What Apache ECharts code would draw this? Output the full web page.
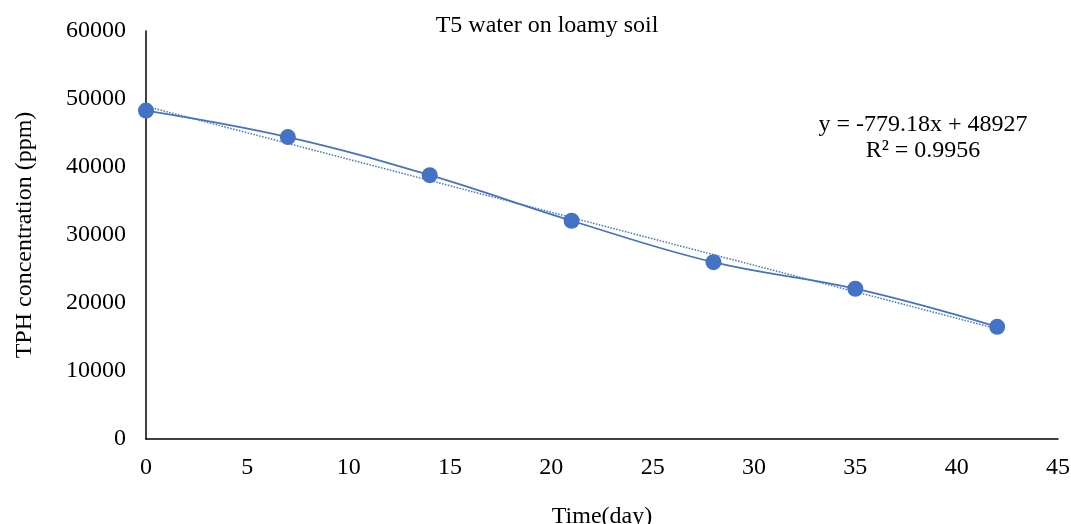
<!DOCTYPE html>
<html>
<head>
<meta charset="utf-8">
<script src="https://cdn.jsdelivr.net/npm/echarts@6/dist/echarts.min.js"></script>
<style>
html,body{margin:0;padding:0;background:#fff;overflow:hidden;}
#chart{width:1071px;height:524px;}
</style>
</head>
<body>
<div id="chart"></div>
<script>
var days = [0, 7, 14, 21, 28, 35, 42];
var tph = [48300, 44400, 38800, 32100, 26000, 22100, 16500];
var trendDays = [0, 42];
var trendValues = [48927, 16201];
var titleText = 'T5 water on loamy soil';
var xName = 'Time(day)';
var yName = 'TPH concentration (ppm)';
var equationLines = ['y = -779.18x + 48927', 'R\u00b2 = 0.9956'];

var font = '"Liberation Serif", "Times New Roman", serif';
var blue = '#4472C4';

var chart = echarts.init(document.getElementById('chart'), null, {renderer: 'canvas', width: 1071, height: 524});
chart.setOption({
  backgroundColor: '#ffffff',
  animation: false,
  textStyle: {fontFamily: font},
  grid: {left: 146, right: 13, top: 31, bottom: 85, containLabel: false, outerBoundsMode: 'none'},
  xAxis: {
    type: 'value', min: 0, max: 45, interval: 5,
    name: xName, nameLocation: 'middle', nameGap: 66,
    nameTextStyle: {fontFamily: font, fontSize: 24, color: '#000'},
    axisLine: {show: true, onZero: false, lineStyle: {color: '#000', width: 1.5}},
    axisTick: {show: false},
    splitLine: {show: false},
    axisLabel: {fontFamily: font, fontSize: 24, color: '#000', margin: 17}
  },
  yAxis: {
    type: 'value', min: 0, max: 60000, interval: 10000,
    name: yName, nameLocation: 'middle', nameGap: 109, nameRotate: 90,
    nameTextStyle: {fontFamily: font, fontSize: 24, color: '#000'},
    axisLine: {show: true, lineStyle: {color: '#000', width: 1.5}},
    axisTick: {show: false},
    splitLine: {show: false},
    axisLabel: {fontFamily: font, fontSize: 24, color: '#000', margin: 20,
      formatter: function (v) { return String(v); }}
  },
  series: [
    {
      type: 'line',
      data: trendDays.map(function (d, i) { return [d, trendValues[i]]; }),
      symbol: 'none',
      lineStyle: {color: blue, width: 1.5, type: 'dotted'},
      z: 1
    },
    {
      type: 'line',
      data: days.map(function (d, i) { return [d, tph[i]]; }),
      smooth: 0.4,
      symbol: 'circle',
      symbolSize: 16,
      itemStyle: {color: blue},
      lineStyle: {color: blue, width: 1.75},
      z: 2
    }
  ],
  graphic: [
    {
      type: 'text', x: 547, y: 26,
      style: {text: titleText, font: '24px ' + font, fill: '#000', textAlign: 'center', textVerticalAlign: 'middle'}
    },
    {
      type: 'text', x: 923, y: 125,
      style: {text: equationLines[0], font: '24px ' + font, fill: '#000', textAlign: 'center', textVerticalAlign: 'middle'}
    },
    {
      type: 'text', x: 923, y: 151,
      style: {text: equationLines[1], font: '24px ' + font, fill: '#000', textAlign: 'center', textVerticalAlign: 'middle'}
    }
  ]
});
</script>
</body>
</html>
